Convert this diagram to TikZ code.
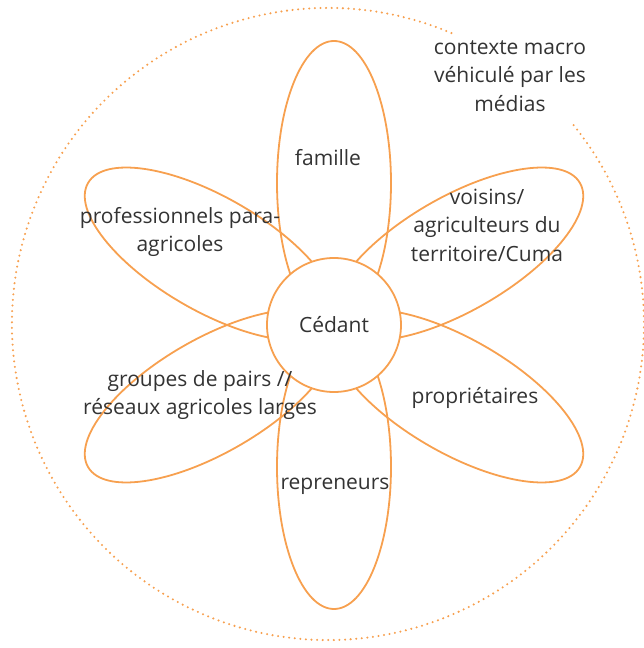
\documentclass[tikz,border=0pt]{standalone}
\usepackage{fontspec}
\setmainfont{Open Sans}
\usetikzlibrary{positioning}
\definecolor{petalorange}{HTML}{F7A04F}
\definecolor{labelgray}{HTML}{333333}

\begin{document}
\begin{tikzpicture}[x=1pt,y=1pt,
    petal/.style={draw=petalorange,line width=1.8pt},
    heart/.style={circle,draw=petalorange,line width=1.8pt,fill=white,minimum size=134pt,inner sep=0pt},
    halo/.style={draw=petalorange,line width=2.3pt,line cap=round,dash pattern=on 0pt off 5.6pt},
    lbl/.style={text=labelgray,align=center,font=\fontsize{21}{28.5}\selectfont,inner sep=0pt}]
  \useasboundingbox (0,0) rectangle (644,648);
  \coordinate (o) at (334,323);
  \coordinate (m) at (328,324);
  \draw[halo] (m) ++(67:316) arc[start angle=67,end angle=400,radius=316];
  \foreach \ang in {90,30,-30,-90,-150,150}
    \draw[petal,shift={(o)},rotate=\ang] (142,0) ellipse[x radius=142,y radius=57];
  \node[heart] (cedant) at (o) {};
  \node[lbl] (cedantlbl) at (o) {Cédant};
  \node[lbl] (famille) at (328,490) {famille};
  \node[lbl] (voisins) at (487,423) {voisins/\\agriculteurs du\\territoire/Cuma};
  \node[lbl] (pros) at (180,416) {professionnels para-\\agricoles};
  \node[lbl] (pairs) at (200,253) {groupes de pairs //\\réseaux agricoles larges};
  \node[lbl] (proprio) at (475,250) {propriétaires};
  \node[lbl] (repreneurs) at (335,162) {repreneurs};
  \node[lbl] (medias) at (510,572) {contexte macro\\véhiculé par les\\médias};
\end{tikzpicture}
\end{document}
